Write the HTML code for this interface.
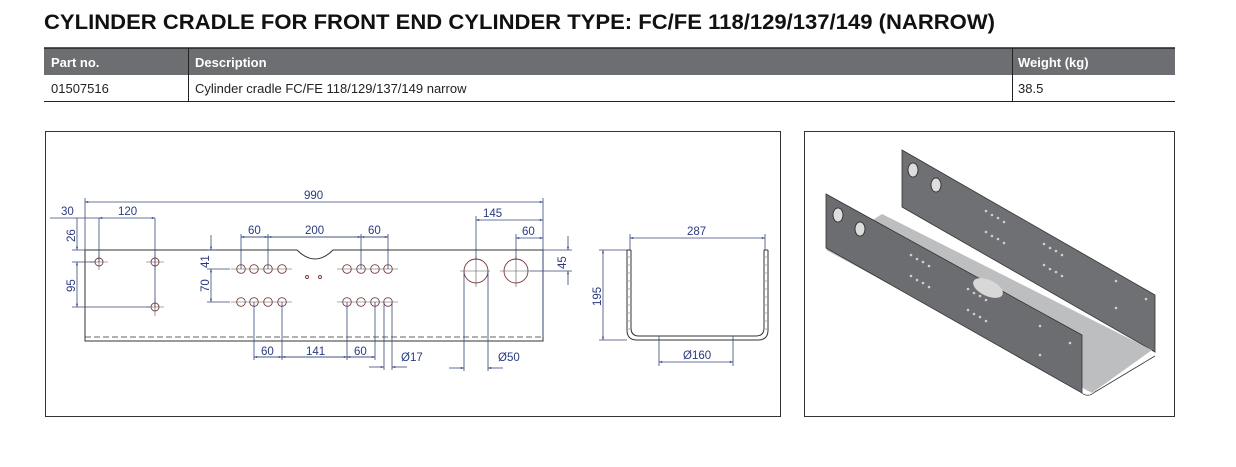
<!DOCTYPE html>
<html><head><meta charset="utf-8"><style>
html,body{margin:0;padding:0;background:#fff;}
svg{display:block;}
.dt{font-family:"Liberation Sans",sans-serif;font-size:11.5px;fill:#2a3a80;}
.l{stroke:#333;stroke-width:1;fill:none;}
.d{stroke:#3a4a7a;stroke-width:0.8;fill:none;}
.c{stroke:#7a3a3a;stroke-width:0.9;fill:none;}
.cx{stroke:#555;stroke-width:0.6;}
</style></head><body>
<svg width="1236" height="467" viewBox="0 0 1236 467" xmlns="http://www.w3.org/2000/svg">
<defs>
<marker id="a" viewBox="0 0 10 10" refX="10" refY="5" markerWidth="6" markerHeight="4" orient="auto-start-reverse"><path d="M0,2 L10,5 L0,8z" fill="#2a3a80"/></marker>
</defs>
<text x="44" y="29" font-family="Liberation Sans,sans-serif" font-weight="bold" font-size="21" fill="#111" textLength="951" lengthAdjust="spacingAndGlyphs">CYLINDER CRADLE FOR FRONT END CYLINDER TYPE: FC/FE 118/129/137/149 (NARROW)</text>
<rect x="44" y="48" width="1131" height="27" fill="#6d6e71"/>
<line x1="44" y1="48" x2="1175" y2="48" stroke="#222" stroke-width="1.5"/>
<line x1="44" y1="101.5" x2="1175" y2="101.5" stroke="#222" stroke-width="1"/>
<line x1="188.5" y1="48" x2="188.5" y2="102" stroke="#222"/>
<line x1="1012.5" y1="48" x2="1012.5" y2="102" stroke="#222"/>
<g font-family="Liberation Sans,sans-serif" font-size="13">
<text x="51" y="67" fill="#fff" font-weight="bold">Part no.</text>
<text x="195" y="67" fill="#fff" font-weight="bold">Description</text>
<text x="1018" y="67" fill="#fff" font-weight="bold">Weight (kg)</text>
<text x="51" y="93" fill="#222">01507516</text>
<text x="195" y="93" fill="#222">Cylinder cradle FC/FE 118/129/137/149 narrow</text>
<text x="1018" y="93" fill="#222">38.5</text>
</g>
<rect x="45.5" y="131.5" width="735" height="285" fill="none" stroke="#333"/>
<rect x="804.5" y="131.5" width="370" height="285" fill="none" stroke="#333"/>

<path class="l" d="M85,250 H297 Q315,268 333,250 H543 V341 H85 Z"/>
<line x1="85" y1="337" x2="543" y2="337" stroke="#333" stroke-width="0.8" stroke-dasharray="6,3"/>
<g class="c">
<circle cx="99" cy="262" r="4"/><circle cx="155" cy="262" r="4"/><circle cx="155" cy="307" r="4"/>
<circle cx="241" cy="269" r="4.3"/><circle cx="254" cy="269" r="4.3"/><circle cx="268" cy="269" r="4.3"/><circle cx="282" cy="269" r="4.3"/>
<circle cx="347" cy="269" r="4.3"/><circle cx="361" cy="269" r="4.3"/><circle cx="375" cy="269" r="4.3"/><circle cx="388" cy="269" r="4.3"/>
<circle cx="241" cy="302" r="4.3"/><circle cx="254" cy="302" r="4.3"/><circle cx="268" cy="302" r="4.3"/><circle cx="282" cy="302" r="4.3"/>
<circle cx="347" cy="302" r="4.3"/><circle cx="361" cy="302" r="4.3"/><circle cx="375" cy="302" r="4.3"/><circle cx="388" cy="302" r="4.3"/>
<circle cx="476" cy="271" r="12"/><circle cx="516" cy="271" r="12"/>
<circle cx="307" cy="277" r="1.5"/><circle cx="320" cy="277" r="1.5"/>
</g>
<g class="cx">
<path d="M90,262H108M99,253V270M146,262H164M155,253V270M146,307H164M155,298V316"/>
<path d="M231,269H292M337,269H398M231,302H292M337,302H398"/>
<path d="M460,271H490M476,256V287M500,271H530M516,256V287"/>
</g>
<g class="d">
<path d="M85,198V250M543,198V337"/>
<path d="M85,202H543" marker-start="url(#a)" marker-end="url(#a)"/>
<path d="M50,218H99" /><path d="M99,218H155" marker-start="url(#a)" marker-end="url(#a)"/>
<path d="M99,218V262M155,218V307"/>
<path d="M72,250H85M72,262H95M72,307H150"/>
<path d="M77,218V250" marker-end="url(#a)"/><path d="M77,262V307" marker-start="url(#a)" marker-end="url(#a)"/>
<path d="M241,234V269M268,234V269M361,234V269M388,234V269"/>
<path d="M241,237H388"/>
<path d="M241,237H268" marker-start="url(#a)" marker-end="url(#a)"/>
<path d="M268,237H361" marker-start="url(#a)" marker-end="url(#a)"/>
<path d="M361,237H388" marker-start="url(#a)" marker-end="url(#a)"/>
<path d="M207,250H216M207,269H230M207,302H230"/>
<path d="M211,235V250" marker-end="url(#a)"/><path d="M211,269V302" marker-start="url(#a)" marker-end="url(#a)"/>
<path d="M254,302V360M282,302V360M347,302V360M375,302V360"/>
<path d="M254,357H375"/>
<path d="M254,357H282" marker-start="url(#a)" marker-end="url(#a)"/>
<path d="M282,357H347" marker-start="url(#a)" marker-end="url(#a)"/>
<path d="M347,357H375" marker-start="url(#a)" marker-end="url(#a)"/>
<path d="M384,302V370M392,302V370"/>
<path d="M369,367H384" marker-end="url(#a)"/><path d="M407,367H392" marker-end="url(#a)"/>
<path d="M476,216V260M516,234V260"/>
<path d="M476,220H543" marker-start="url(#a)" marker-end="url(#a)"/>
<path d="M516,238H543" marker-start="url(#a)" marker-end="url(#a)"/>
<path d="M543,250H572M530,271H572"/>
<path d="M568,236V250" marker-end="url(#a)"/><path d="M568,285V271" marker-end="url(#a)"/>
<path d="M464,271V371M488,271V371"/>
<path d="M449,368H464" marker-end="url(#a)"/><path d="M503,368H488" marker-end="url(#a)"/>
</g>
<g class="dt">
<text x="304" y="199">990</text>
<text x="61" y="215">30</text>
<text x="118" y="215">120</text>
<text x="248" y="234">60</text>
<text x="305" y="234">200</text>
<text x="368" y="234">60</text>
<text x="483" y="217">145</text>
<text x="522" y="235">60</text>
<text x="261" y="355">60</text>
<text x="306" y="355">141</text>
<text x="354" y="355">60</text>
<text x="401" y="361">Ø17</text>
<text x="498" y="361">Ø50</text>
<text transform="translate(75,242) rotate(-90)">26</text>
<text transform="translate(75,292) rotate(-90)">95</text>
<text transform="translate(209,268) rotate(-90)">41</text>
<text transform="translate(209,292) rotate(-90)">70</text>
<text transform="translate(566,269) rotate(-90)">45</text>
</g>
<path class="l" d="M627,250V330Q627,340 637,340H758Q768,340 768,330V250"/>
<path class="l" d="M631,250V328Q631,336 639,336H756Q764,336 764,328V250"/>
<path class="l" d="M627,250H631M764,250H768"/>
<path stroke="#a06060" stroke-width="0.6" stroke-dasharray="2,6" d="M629,256V330M766,256V330"/>
<g class="d">
<path d="M630,234V250M765,234V250"/>
<path d="M630,238H765" marker-start="url(#a)" marker-end="url(#a)"/>
<path d="M599,250H627M599,340H627"/>
<path d="M603,250V340" marker-start="url(#a)" marker-end="url(#a)"/>
<path d="M659,336V366M733,336V366"/>
<path d="M659,362H733" marker-start="url(#a)" marker-end="url(#a)"/>
</g>
<g class="dt">
<text x="687" y="235">287</text>
<text x="683" y="359">Ø160</text>
<text transform="translate(601,306) rotate(-90)">195</text>
</g>
<!-- 3D view -->
<polygon points="902,150 1155,295 1155,352 902,207" fill="#6f7073" stroke="#333" stroke-width="0.8"/>
<polygon points="882,214 1152,350 1092,393 826,250" fill="#bdbec0"/>
<polygon points="826,194 1082,335 1082,393 826,248" fill="#6c6d70" stroke="#333" stroke-width="0.8"/>
<path d="M1082,393 Q1088,398 1095,392 L1155,356" fill="none" stroke="#333" stroke-width="0.8"/>
<ellipse cx="988" cy="288" rx="16" ry="8" transform="rotate(25 988 288)" fill="#d8d8d8"/>
<g fill="#ddd" stroke="#222" stroke-width="0.8">
<ellipse cx="913" cy="170" rx="5" ry="7"/><ellipse cx="936" cy="185" rx="5" ry="7"/>
<ellipse cx="838" cy="215" rx="5" ry="7"/><ellipse cx="860" cy="229" rx="5" ry="7"/>
</g>
<g fill="#cfcfcf">
<circle cx="986" cy="211" r="1.3"/><circle cx="992" cy="215" r="1.3"/><circle cx="998" cy="218" r="1.3"/><circle cx="1004" cy="222" r="1.3"/>
<circle cx="986" cy="232" r="1.3"/><circle cx="992" cy="236" r="1.3"/><circle cx="998" cy="239" r="1.3"/><circle cx="1004" cy="243" r="1.3"/>
<circle cx="1044" cy="244" r="1.3"/><circle cx="1050" cy="248" r="1.3"/><circle cx="1056" cy="251" r="1.3"/><circle cx="1062" cy="255" r="1.3"/>
<circle cx="1044" cy="265" r="1.3"/><circle cx="1050" cy="269" r="1.3"/><circle cx="1056" cy="272" r="1.3"/><circle cx="1062" cy="276" r="1.3"/>
<circle cx="911" cy="255" r="1.3"/><circle cx="917" cy="259" r="1.3"/><circle cx="923" cy="262" r="1.3"/><circle cx="929" cy="266" r="1.3"/>
<circle cx="911" cy="276" r="1.3"/><circle cx="917" cy="280" r="1.3"/><circle cx="923" cy="283" r="1.3"/><circle cx="929" cy="287" r="1.3"/>
<circle cx="968" cy="289" r="1.3"/><circle cx="974" cy="293" r="1.3"/><circle cx="980" cy="296" r="1.3"/><circle cx="986" cy="300" r="1.3"/>
<circle cx="968" cy="310" r="1.3"/><circle cx="974" cy="314" r="1.3"/><circle cx="980" cy="317" r="1.3"/><circle cx="986" cy="321" r="1.3"/>
<circle cx="1040" cy="326" r="1.3"/><circle cx="1070" cy="343" r="1.3"/><circle cx="1040" cy="355" r="1.3"/>
<circle cx="1116" cy="281" r="1.3"/><circle cx="1146" cy="299" r="1.3"/><circle cx="1116" cy="308" r="1.3"/>
</g>
</svg>
</body></html>
